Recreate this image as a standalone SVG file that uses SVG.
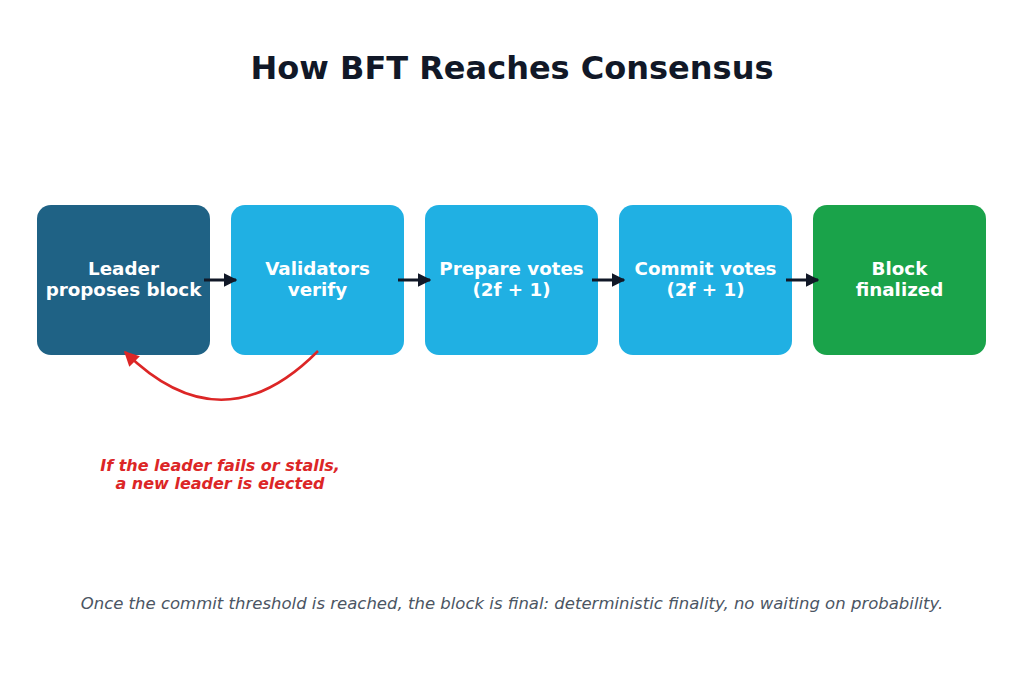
<svg xmlns="http://www.w3.org/2000/svg" width="1024" height="683" viewBox="0 0 1024 683">
<style>
.title{font-family:"DejaVu Sans",sans-serif;font-weight:bold;font-size:32px;fill:#111827;text-anchor:middle}
.lbl{font-family:"DejaVu Sans",sans-serif;font-weight:bold;font-size:18.3px;fill:#ffffff;text-anchor:middle}
.note{font-family:"DejaVu Sans",sans-serif;font-weight:bold;font-style:italic;font-size:16px;fill:#dc2626;text-anchor:middle}
.foot{font-family:"DejaVu Sans",sans-serif;font-style:italic;font-size:16.5px;fill:#4b5563;text-anchor:middle}
.flow{stroke:#111827;stroke-width:3;fill:none;marker-end:url(#ah)}
</style>
<defs>
<marker id="ah" viewBox="0 0 10 10" refX="9" refY="5" markerWidth="4.5" markerHeight="4.5" orient="auto" markerUnits="strokeWidth"><path d="M0,0 L10,5 L0,10 z" fill="#111827"/></marker>
<marker id="ar" viewBox="0 0 10 10" refX="9" refY="5" markerWidth="6" markerHeight="6" orient="auto" markerUnits="strokeWidth"><path d="M0,0 L10,5 L0,10 z" fill="#dc2626"/></marker>
</defs>
<rect width="1024" height="683" fill="#ffffff"/>
<text class="title" x="512" y="79">How BFT Reaches Consensus</text>
<g id="n1"><rect x="37" y="205" width="173" height="150" rx="14" fill="#1f6285"/><text class="lbl" x="123.5" y="275">Leader</text><text class="lbl" x="123.5" y="296">proposes block</text></g>
<g id="n2"><rect x="231" y="205" width="173" height="150" rx="14" fill="#20b0e3"/><text class="lbl" x="317.5" y="275">Validators</text><text class="lbl" x="317.5" y="296">verify</text></g>
<g id="n3"><rect x="425" y="205" width="173" height="150" rx="14" fill="#20b0e3"/><text class="lbl" x="511.5" y="275">Prepare votes</text><text class="lbl" x="511.5" y="296">(2f + 1)</text></g>
<g id="n4"><rect x="619" y="205" width="173" height="150" rx="14" fill="#20b0e3"/><text class="lbl" x="705.5" y="275">Commit votes</text><text class="lbl" x="705.5" y="296">(2f + 1)</text></g>
<g id="n5"><rect x="813" y="205" width="173" height="150" rx="14" fill="#1aa34a"/><text class="lbl" x="899.5" y="275">Block</text><text class="lbl" x="899.5" y="296">finalized</text></g>
<g id="connectors">
<line class="flow" x1="204" y1="280" x2="236" y2="280"/>
<line class="flow" x1="398" y1="280" x2="430" y2="280"/>
<line class="flow" x1="592" y1="280" x2="624" y2="280"/>
<line class="flow" x1="786" y1="280" x2="818" y2="280"/>
<path d="M318,351 Q222,448 125,352" stroke="#dc2626" stroke-width="2.5" fill="none" marker-end="url(#ar)"/>
</g>
<text class="note" x="220" y="471">If the leader fails or stalls,</text>
<text class="note" x="220" y="489">a new leader is elected</text>
<text class="foot" x="512" y="609">Once the commit threshold is reached, the block is final: deterministic finality, no waiting on probability.</text>
</svg>
